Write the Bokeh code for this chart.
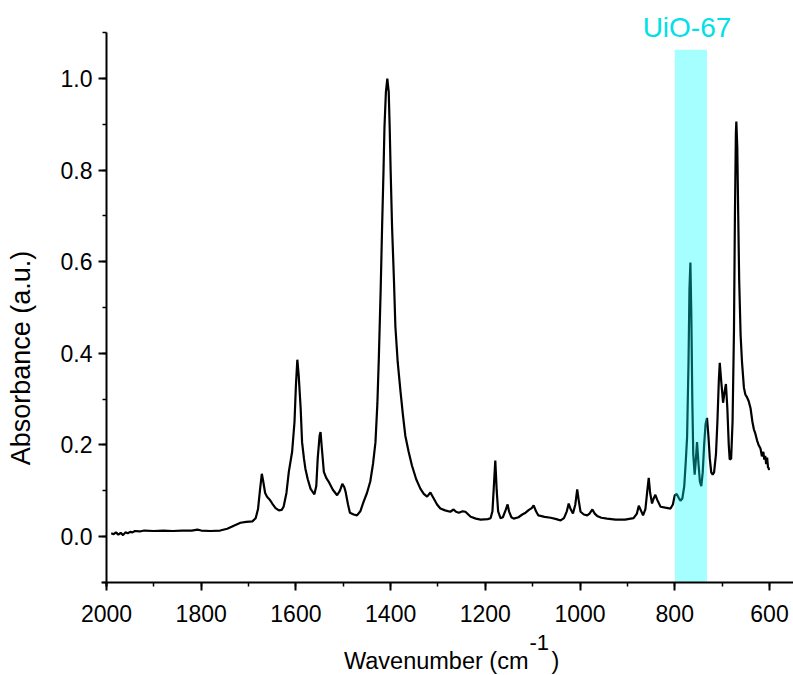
import math
from bokeh.plotting import figure
from bokeh.models import Range1d, SingleIntervalTicker, PrintfTickFormatter, Label
from bokeh.embed import file_html
from bokeh.resources import INLINE

# IR spectrum: wavenumber (cm^-1) and absorbance (a.u.)
wavenumber = [
    1990, 1985, 1980, 1975, 1970, 1965, 1960, 1955, 1950, 1945, 1940, 1930, 1920, 1900,
    1880, 1860, 1840, 1820, 1808, 1800, 1780, 1760, 1745, 1730, 1717, 1705, 1692, 1685,
    1680, 1676, 1672, 1669, 1665, 1661, 1655, 1650, 1643, 1636, 1630, 1626, 1620, 1615,
    1608, 1603, 1600, 1597, 1594, 1590, 1587, 1583, 1580, 1575, 1569, 1561, 1557, 1554,
    1550, 1548, 1545, 1541, 1536, 1531, 1522, 1513, 1507, 1502, 1498, 1495, 1490, 1486,
    1478, 1471, 1464, 1457, 1450, 1443, 1437, 1432, 1428, 1425, 1421, 1418, 1415, 1413,
    1410, 1407, 1404, 1402, 1400, 1397, 1393, 1390, 1385, 1379, 1374, 1369, 1362, 1355,
    1346, 1337, 1330, 1323, 1316, 1309, 1302, 1295, 1285, 1274, 1267, 1262, 1256, 1248,
    1242, 1236, 1231, 1220, 1210, 1195, 1189, 1185, 1182, 1179, 1176, 1173, 1168, 1163,
    1157, 1153, 1150, 1145, 1140, 1130, 1122, 1115, 1108, 1102, 1098, 1093, 1088, 1075,
    1062, 1050, 1041, 1034, 1028, 1024, 1020, 1015, 1010, 1006, 1003, 999, 992, 985,
    980, 974, 969, 964, 955, 943, 925, 905, 887, 880, 876, 872, 867, 862,
    858, 855, 852, 848, 845, 841, 837, 830, 820, 809, 804, 800, 796, 792,
    788, 784, 780, 777, 774, 771, 769, 767, 765, 763, 761, 758, 756, 753,
    750, 747, 744, 741, 738, 735, 732, 729, 726, 723, 720, 717, 713, 710,
    707, 705, 702, 698, 695, 692, 689, 686, 684, 681, 678, 675, 673, 671,
    670, 668, 666, 664, 661, 658, 654, 651, 648, 644, 640, 636, 633, 630,
    626, 623, 619, 616, 613, 611, 609, 607, 605, 603, 602, 601,
]
absorbance = [
    0.007, 0.005, 0.009, 0.004, 0.008, 0.003, 0.009, 0.007, 0.010, 0.009, 0.012, 0.011, 0.013, 0.012,
    0.013, 0.012, 0.013, 0.013, 0.015, 0.013, 0.012, 0.013, 0.017, 0.024, 0.030, 0.032, 0.033, 0.040,
    0.060, 0.100, 0.137, 0.120, 0.095, 0.087, 0.080, 0.072, 0.062, 0.057, 0.058, 0.065, 0.095, 0.141,
    0.185, 0.250, 0.330, 0.386, 0.350, 0.280, 0.206, 0.170, 0.148, 0.125, 0.104, 0.092, 0.110, 0.170,
    0.220, 0.228, 0.190, 0.141, 0.128, 0.120, 0.102, 0.090, 0.100, 0.115, 0.108, 0.097, 0.070, 0.052,
    0.048, 0.046, 0.055, 0.076, 0.095, 0.120, 0.160, 0.206, 0.290, 0.387, 0.540, 0.677, 0.800, 0.894,
    0.970, 1.000, 0.970, 0.894, 0.800, 0.677, 0.560, 0.459, 0.380, 0.315, 0.265, 0.220, 0.185, 0.155,
    0.125, 0.104, 0.093, 0.087, 0.096, 0.083, 0.070, 0.061, 0.057, 0.054, 0.059, 0.054, 0.052, 0.055,
    0.054, 0.048, 0.043, 0.039, 0.037, 0.038, 0.040, 0.055, 0.110, 0.166, 0.100, 0.055, 0.040, 0.042,
    0.058, 0.070, 0.055, 0.042, 0.039, 0.042, 0.048, 0.052, 0.058, 0.062, 0.068, 0.055, 0.046, 0.043,
    0.041, 0.038, 0.035, 0.040, 0.055, 0.072, 0.060, 0.050, 0.070, 0.103, 0.080, 0.054, 0.048, 0.046,
    0.050, 0.059, 0.050, 0.045, 0.041, 0.039, 0.037, 0.037, 0.040, 0.050, 0.067, 0.058, 0.046, 0.060,
    0.100, 0.128, 0.095, 0.072, 0.082, 0.091, 0.080, 0.065, 0.063, 0.061, 0.070, 0.090, 0.093, 0.085,
    0.078, 0.083, 0.110, 0.160, 0.217, 0.380, 0.540, 0.598, 0.480, 0.300, 0.180, 0.135, 0.160, 0.206,
    0.160, 0.120, 0.110, 0.140, 0.200, 0.245, 0.259, 0.220, 0.170, 0.140, 0.135, 0.140, 0.180, 0.250,
    0.340, 0.379, 0.340, 0.292, 0.315, 0.333, 0.280, 0.200, 0.168, 0.170, 0.250, 0.450, 0.700, 0.880,
    0.906, 0.850, 0.700, 0.560, 0.440, 0.380, 0.325, 0.310, 0.305, 0.296, 0.280, 0.250, 0.234, 0.225,
    0.209, 0.200, 0.192, 0.175, 0.185, 0.168, 0.176, 0.158, 0.172, 0.150, 0.151, 0.145,
]

# axis extents
x_start, x_end = 2000, 549.3
y_start, y_end = -0.1, 1.1

# highlighted UiO-67 band
band_label = "UiO-67"
band_left = 800
band_right = 732
band_top = 1.063

FONT = "Liberation Sans"

# The frame spans the whole canvas; the axes sit at fixed data locations
# so the titles and the band label can be placed as plain labels.
p = figure(
    width=793, height=675, output_backend="svg", toolbar_location=None,
    x_range=Range1d(2223.8, x_end), y_range=Range1d(-0.3035, 1.1703),
    min_border_left=0, min_border_right=0, min_border_top=0, min_border_bottom=0,
)
p.xgrid.visible = False
p.ygrid.visible = False
p.outline_line_color = None
p.background_fill_color = "white"
p.border_fill_color = "white"

p.xaxis.ticker = SingleIntervalTicker(interval=200, num_minor_ticks=2)
p.yaxis.ticker = SingleIntervalTicker(interval=0.2, num_minor_ticks=2)
p.yaxis.formatter = PrintfTickFormatter(format="%.1f")
p.xaxis.fixed_location = y_start
p.yaxis.fixed_location = x_start
p.xaxis.bounds = (x_start + 10, x_end)
p.yaxis.bounds = (y_start - 0.01, y_end + 0.001)

for ax in (p.xaxis[0], p.yaxis[0]):
    ax.axis_line_width = 2
    ax.axis_line_color = "black"
    ax.major_tick_line_width = 2
    ax.minor_tick_line_width = 1.5
    ax.major_tick_in = 0
    ax.major_tick_out = 8
    ax.minor_tick_in = 0
    ax.minor_tick_out = 4
    ax.major_label_text_font = FONT
    ax.major_label_text_font_size = "23px"
    ax.major_label_text_color = "black"
p.xaxis.major_label_standoff = 15
p.yaxis.major_label_standoff = 6

p.line(wavenumber, absorbance, line_color="black", line_width=2.2)
p.quad(left=[band_left], right=[band_right], bottom=[y_start], top=[band_top],
       fill_color="#00FFFF", fill_alpha=0.35, line_color=None)

p.add_layout(Label(x=774.2, y=1.1118, text=band_label, text_align="center",
                   text_baseline="alphabetic", text_font=FONT,
                   text_font_size="28px", text_color="#00E0E6"))

# axis titles
p.add_layout(Label(x=2179.5, y=0.3897, text="Absorbance (a.u.)", angle=math.pi / 2,
                   text_align="center", text_baseline="middle", text_font=FONT,
                   text_font_size="27px", text_color="black"))
p.add_layout(Label(x=1108.9, y=-0.2712, text="Wavenumber (cm", text_align="right",
                   text_baseline="alphabetic", text_font=FONT,
                   text_font_size="23.5px", text_color="black"))
p.add_layout(Label(x=1106.8, y=-0.2325, text="-1", text_align="left",
                   text_baseline="alphabetic", text_font=FONT,
                   text_font_size="22px", text_color="black"))
p.add_layout(Label(x=1060.3, y=-0.2712, text=")", text_align="left",
                   text_baseline="alphabetic", text_font=FONT,
                   text_font_size="23.5px", text_color="black"))

open("out.html", "w").write(file_html(p, INLINE))
